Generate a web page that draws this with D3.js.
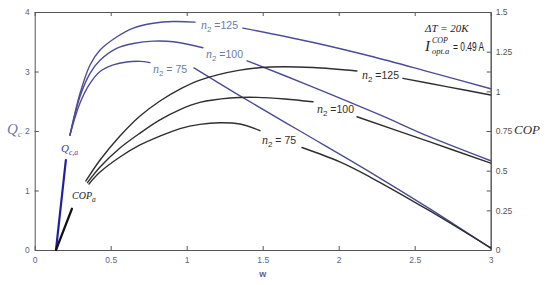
<!DOCTYPE html>
<html><head><meta charset="utf-8">
<script src="https://cdn.jsdelivr.net/npm/d3@7"></script>
<style>body{margin:0;background:#fff}svg{display:block}</style>
</head><body><svg id="c" width="550" height="285"></svg>
<script>
// ---- data ----
const xTicks = [0, 0.5, 1, 1.5, 2, 2.5, 3];
const leftTicks = [0, 1, 2, 3, 4];
const rightTicks = [0, 0.25, 0.5, 0.75, 1, 1.25, 1.5];

// Q_c curves (left axis); null = gap where a label sits
const qW125 = [0.232,0.298,0.364,0.430,0.539,0.649,0.780,0.912,1.055,null,1.370,1.811,2.206,2.600,3.0];
const qV125 = [1.93,2.63,3.11,3.36,3.58,3.73,3.81,3.84,3.83,null,3.73,3.50,3.26,2.99,2.71];
const qW100 = [0.232,0.298,0.364,0.430,0.539,0.649,0.780,0.912,1.107,null,1.397,1.811,2.272,2.600,3.0];
const qV100 = [1.93,2.58,2.97,3.19,3.39,3.47,3.51,3.50,3.40,null,3.18,2.76,2.27,1.90,1.50];
const qW75  = [0.232,0.298,0.364,0.430,0.517,0.605,0.693,0.758,null,1.048,1.331,1.745,2.206,2.600,3.0];
const qV75  = [1.93,2.47,2.80,3.00,3.11,3.16,3.17,3.15,null,3.06,2.62,2.00,1.31,0.69,0.03];

// COP curves (right axis)
const cW125 = [0.337,0.430,0.561,0.693,0.824,0.956,1.087,1.350,1.548,1.831,2.120,null,2.423,2.709,3.0];
const cV125 = [0.435,0.567,0.718,0.844,0.939,1.014,1.071,1.134,1.153,1.150,1.128,null,1.082,1.030,0.977];
const cW100 = [0.347,0.430,0.561,0.693,0.824,0.956,1.087,1.285,1.463,1.647,1.831,null,2.120,2.600,3.0];
const cV100 = [0.425,0.523,0.643,0.737,0.820,0.885,0.930,0.958,0.962,0.952,0.934,null,0.840,0.681,0.548];
const cW75  = [0.357,0.430,0.561,0.693,0.824,0.956,1.087,1.219,1.350,1.482,null,1.758,2.008,2.206,2.600,3.0];
const cV75  = [0.416,0.491,0.586,0.662,0.718,0.765,0.792,0.802,0.794,0.752,null,0.646,0.555,0.460,0.246,0.013];

// start-up branches
const qaW = [0.140, 0.205];
const qaV = [0, 1.51];
const copaW = [0.140, 0.245];
const copaV = [0, 0.26];

// ---- drawing ----
const svg = d3.select("#c");
const x = d3.scaleLinear().domain([0, 3]).range([34.7, 490.7]);
const yL = d3.scaleLinear().domain([0, 4]).range([250, 12]);
const yR = d3.scaleLinear().domain([0, 1.5]).range([250, 12]);

const axisCol = "#555";
const tickTxt = "#5d6190";
function styleAxis(g, col) {
  g.selectAll("path,line").attr("stroke", axisCol).attr("stroke-width", 1);
  g.selectAll("text").attr("fill", col).style("font-family", "Liberation Sans, Arial, sans-serif").style("font-size", "8.5px");
}
const fmt = d => String(d);
svg.append("g").attr("transform", "translate(0,250)")
  .call(d3.axisBottom(x).tickValues(xTicks).tickFormat(fmt).tickSize(-4).tickSizeOuter(0).tickPadding(7))
  .call(g => styleAxis(g, tickTxt));
svg.append("g").attr("transform", "translate(0,12)")
  .call(d3.axisTop(x).tickValues(xTicks).tickFormat("").tickSize(-4).tickSizeOuter(0))
  .call(g => styleAxis(g, tickTxt));
svg.append("g").attr("transform", "translate(34.7,0)")
  .call(d3.axisLeft(yL).tickValues(leftTicks).tickFormat(fmt).tickSize(-4).tickSizeOuter(0).tickPadding(5))
  .call(g => styleAxis(g, tickTxt));
svg.append("g").attr("transform", "translate(490.7,0)")
  .call(d3.axisRight(yL).tickValues(leftTicks).tickFormat("").tickSize(-4).tickSizeOuter(0))
  .call(g => styleAxis(g, tickTxt));
svg.append("g").attr("transform", "translate(490.7,0)")
  .call(d3.axisRight(yR).tickValues(rightTicks).tickFormat(fmt).tickSize(-4).tickSizeOuter(0).tickPadding(5))
  .call(g => styleAxis(g, "#555"));

function series(ws, vs) { return ws.map((w, i) => ({w, v: vs[i]})); }
function draw(ws, vs, yS, color, width) {
  const line = d3.line().defined(d => d.w != null && d.v != null)
    .x(d => x(d.w)).y(d => yS(d.v)).curve(d3.curveCatmullRom.alpha(0.5));
  svg.append("path").datum(series(ws, vs)).attr("d", line)
    .attr("fill", "none").attr("stroke", color).attr("stroke-width", width)
    .attr("stroke-linecap", "round");
}
const blue = "#4c4c96", black = "#2e2e2e";
draw(qW125, qV125, yL, blue, 1.4);
draw(qW100, qV100, yL, blue, 1.4);
draw(qW75, qV75, yL, blue, 1.4);
draw(cW125, cV125, yR, black, 1.4);
draw(cW100, cV100, yR, black, 1.4);
draw(cW75, cV75, yR, black, 1.4);
draw(qaW, qaV, yL, "#1f1fa0", 2.2);
draw(copaW, copaV, yR, "#111", 2.2);

// ---- labels ----
const serif = "Liberation Serif, DejaVu Serif, serif";
const sans = "Liberation Sans, Arial, sans-serif";
function nLabel(px, py, num, col, sp) {
  const t = svg.append("text").attr("x", px).attr("y", py).attr("fill", col)
    .style("font-family", sans).style("font-size", "10.5px");
  t.append("tspan").text("n").style("font-family", serif).style("font-style", "italic").style("font-size", "12px");
  t.append("tspan").text("2").attr("dy", 3).style("font-size", "8px");
  t.append("tspan").text(sp ? " = " + num : " =" + num).attr("dy", -3);
}
const lblBlue = "#6a7ca2";
nLabel(201, 29, "125", lblBlue, false);
nLabel(206, 58, "100", lblBlue, false);
nLabel(153, 73, "75", lblBlue, true);
nLabel(362, 79, "125", black, false);
nLabel(317, 113, "100", black, false);
nLabel(262, 144, "75", black, true);

// Q_c axis label
const qc = svg.append("text").attr("x", 7).attr("y", 134).attr("fill", "#6f7aa5")
  .style("font-family", serif).style("font-style", "italic").style("font-size", "15px");
qc.append("tspan").text("Q");
qc.append("tspan").text("c").attr("dy", 3).style("font-size", "9px");
// COP axis label
svg.append("text").attr("x", 514).attr("y", 134).attr("fill", "#333")
  .style("font-family", serif).style("font-style", "italic").style("font-size", "13px").text("COP");
// w label
svg.append("text").attr("x", 262.7).attr("y", 277).attr("text-anchor", "middle").attr("fill", tickTxt)
  .style("font-family", sans).style("font-size", "9px").style("font-weight", "bold").text("w");

// Q_c,a
const qa = svg.append("text").attr("x", 61).attr("y", 152).attr("fill", "#3636a8")
  .style("font-family", serif).style("font-style", "italic").style("font-size", "11px");
qa.append("tspan").text("Q");
qa.append("tspan").text("c,a").attr("dy", 3).style("font-size", "7.5px");
// COP_a
const ca = svg.append("text").attr("x", 72).attr("y", 199).attr("fill", "#222")
  .style("font-family", serif).style("font-style", "italic").style("font-size", "10px");
ca.append("tspan").text("COP");
ca.append("tspan").text("a").attr("dy", 3).style("font-size", "7.5px");

// annotations
svg.append("text").attr("x", 425).attr("y", 32).attr("fill", "#222")
  .style("font-family", serif).style("font-style", "italic").style("font-size", "11px").text("ΔT = 20K");
const ia = svg.append("text").attr("x", 425).attr("y", 51).attr("fill", "#222")
  .style("font-family", serif).style("font-size", "15px");
ia.append("tspan").text("I").style("font-style", "italic");
ia.append("tspan").text("COP").attr("x", 432).attr("y", 43).style("font-size", "8px").style("font-style", "italic");
ia.append("tspan").text("opt.a").attr("x", 432).attr("y", 54).style("font-size", "8.5px").style("font-style", "italic");
ia.append("tspan").text("= 0.49 A").attr("x", 453).attr("y", 51).attr("textLength", 31)
  .attr("lengthAdjust", "spacingAndGlyphs").style("font-family", sans).style("font-size", "12px");
</script></body></html>
